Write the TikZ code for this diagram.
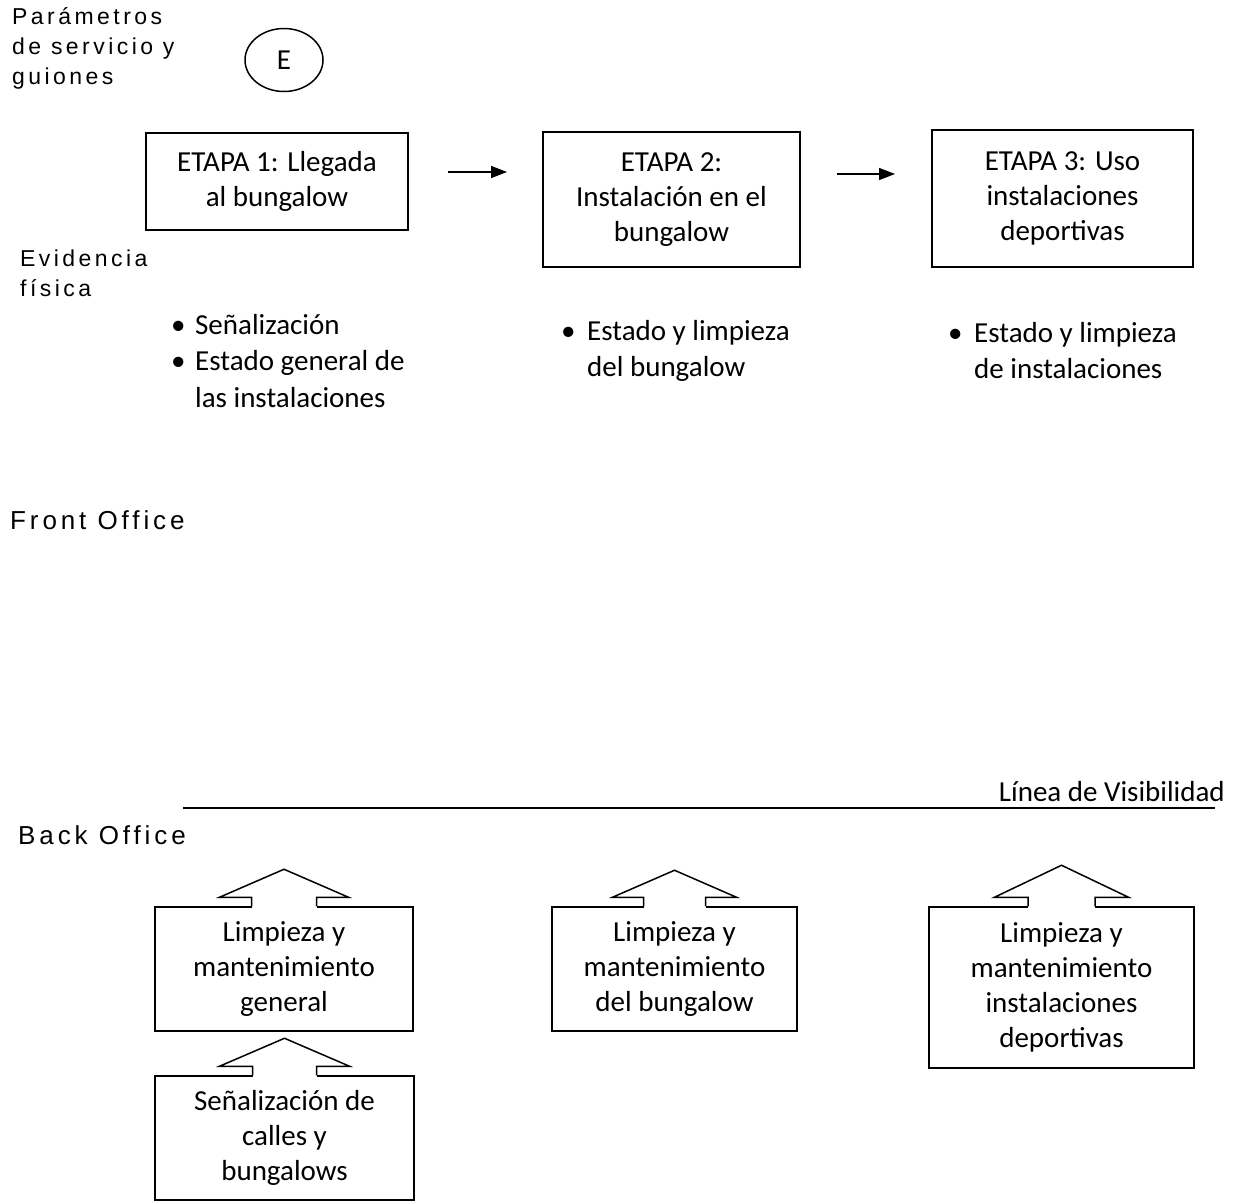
\documentclass[tikz,border=0pt]{standalone}
\usepackage{fontspec}
\setmainfont{Carlito}
\newfontfamily\lbl[LetterSpace=15]{Liberation Sans}
\usetikzlibrary{arrows.meta,calc,shapes.geometric}

% white-filled lift arrow sitting on top of a box: node, half stem, half head, apex height
\newcommand\liftarrow[4]{%
  \fill[white] ($(#1.north)+(-#2,-9)$) rectangle ($(#1.north)+(#2,1.6)$);
  \draw[edge] ($(#1.north)+(-#2,0)$) -- ++(0,-9) -- ($(#1.north)+(-#3,-9)$)
     -- ($(#1.north)+(0,-#4)$) -- ($(#1.north)+(#3,-9)$) -- ($(#1.north)+(#2,-9)$) -- ++(0,9);
}
\newcommand\rows[1]{\begin{tabular}[t]{@{}l@{}}#1\end{tabular}}
\newcommand\bul[1]{\makebox[#1][l]{\textbullet}}

\begin{document}
\begin{tikzpicture}[x=1pt,y=-1pt,
  boxtxt/.style={font=\fontsize{29}{35}\selectfont},
  edge/.style={line width=1.5pt,line join=miter},
  stagebox/.style={draw,edge,rectangle,align=center,inner sep=0pt,boxtxt},
  sidelabel/.style={anchor=base west,inner sep=0pt,font=\lbl\fontsize{23}{30}\selectfont},
  officelabel/.style={anchor=base west,inner sep=0pt,font=\lbl\fontsize{26}{30}\selectfont},
  listtxt/.style={anchor=base west,inner sep=0pt,font=\fontsize{29}{36.5}\selectfont},
  flow/.style={line width=1.5pt,-{Triangle[length=16pt,width=12pt]}}
]
\useasboundingbox[fill=white] (0,0) rectangle (1239,1202);

% side labels
\node[sidelabel] (par) at (12,24) {\rows{Parámetros\\de servicio y\\guiones}};
\node[sidelabel] (evi) at (20,266) {\rows{Evidencia\\física}};
\node[officelabel] (front) at (10,529) {Front Office};
\node[officelabel] (back) at (18,844) {Back Office};

\node[draw,edge,ellipse,minimum width=78,minimum height=63,inner sep=0pt,boxtxt] (e) at (284,60) {E};

% stages
\node[stagebox,minimum width=262,minimum height=97] (s1) at (277,181.5) {ETAPA 1: Llegada\\al bungalow};
\node[stagebox,minimum width=257,minimum height=135] (s2) at (671.5,199.5) {ETAPA 2:\\Instalación en el\\bungalow};
\node[stagebox,minimum width=261,minimum height=137] (s3) at (1062.5,198.5) {ETAPA 3: Uso\\instalaciones\\deportivas};

\coordinate (h1a) at (448,172); \coordinate (h1b) at (507,172);
\coordinate (h2a) at (837,174); \coordinate (h2b) at (895,174);
\draw[flow] (h1a) -- (h1b);
\draw[flow] (h2a) -- (h2b);

% physical evidence
\node[listtxt] (ev1) at (171,334) {\rows{\bul{24pt}Señalización\\\bul{24pt}Estado general de\\\hspace{24pt}las instalaciones}};
\node[listtxt] (ev2) at (561,340) {\rows{\bul{26pt}Estado y limpieza\\\hspace{26pt}del bungalow}};
\node[listtxt] (ev3) at (948,342) {\rows{\bul{26pt}Estado y limpieza\\\hspace{26pt}de instalaciones}};

% line of visibility
\coordinate (v1) at (183,808); \coordinate (v2) at (1215,808);
\draw[edge] (v1) -- (v2);
\node[anchor=base east,inner sep=0pt,boxtxt] (vis) at (1225,801) {Línea de Visibilidad};

% back office
\node[stagebox,minimum width=258,minimum height=124] (b1) at (284,969) {Limpieza y\\mantenimiento\\general};
\node[stagebox,minimum width=245,minimum height=124] (b2) at (674.5,969) {Limpieza y\\mantenimiento\\del bungalow};
\node[stagebox,minimum width=265,minimum height=161] (b3) at (1061.5,987.5) {Limpieza y\\mantenimiento\\instalaciones\\deportivas};
\node[stagebox,minimum width=259,minimum height=124] (b4) at (284.5,1138) {Señalización de\\calles y\\bungalows};

\liftarrow{b1}{32.5}{64.5}{37}
\liftarrow{b2}{31}{62}{36}
\liftarrow{b3}{33.5}{67}{41}
\liftarrow{b4}{32}{65}{37}
\end{tikzpicture}
\end{document}
